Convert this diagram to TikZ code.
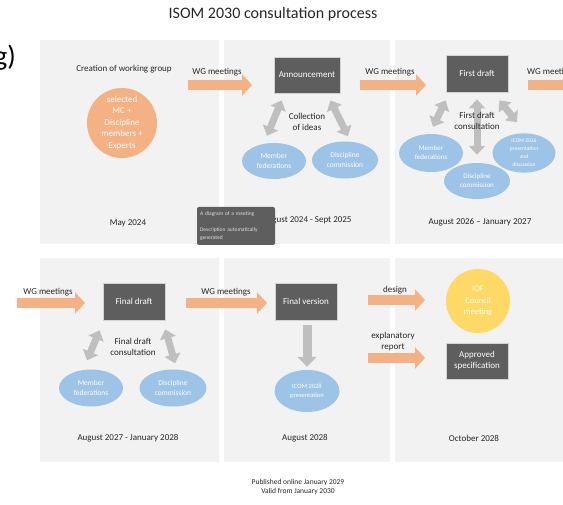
\documentclass[tikz,border=0pt]{standalone}
\usepackage{fontspec}
\setmainfont{Carlito}
\usetikzlibrary{arrows.meta,calc,shapes.geometric}
\definecolor{panel}{HTML}{F2F2F2}
\definecolor{peach}{HTML}{F4B183}
\definecolor{lblue}{HTML}{9DC3E6}
\definecolor{dbox}{HTML}{5E5E5E}
\definecolor{garrow}{HTML}{BFBFBF}
\definecolor{ink}{HTML}{262626}
\definecolor{gold}{HTML}{FFD966}
\tikzset{
  panelbox/.style={fill=panel, draw=none},
  darkbox/.style={rectangle, fill=dbox, draw=gray!35, line width=0.8pt, text=white,
    font=\fontsize{9}{11}\selectfont, minimum width=62pt, minimum height=37pt, inner sep=0pt, align=center},
  blueell/.style={ellipse, fill=lblue, draw=none, text=white,
    font=\fontsize{7.5}{9.5}\selectfont, align=center, inner sep=0pt},
  lbl/.style={text=ink, font=\fontsize{9}{11}\selectfont, align=center, inner sep=0pt},
  orangearrow/.style={draw=peach, line width=10pt, -{Triangle[width=21pt,length=10pt]}},
  grayduo/.style={draw=garrow, line width=7pt, {Triangle[width=16pt,length=9pt]}-{Triangle[width=16pt,length=9pt]}},
  graydown/.style={draw=garrow, line width=9pt, -{Triangle[width=19pt,length=10pt]}}
}
\begin{document}
\begin{tikzpicture}[x=1pt,y=-1pt]
\useasboundingbox (0,0) rectangle (563,505);
% title and partial label
\node[lbl, font=\fontsize{16}{18}\selectfont] (title) at (273,14) {ISOM 2030 consultation process};
\node[anchor=base east, inner sep=0pt, font=\fontsize{28}{30}\selectfont] (glabel) at (16,66) {g)};
% panels
\fill[panelbox] (40,40) rectangle (219,244);
\fill[panelbox] (224,40) rectangle (390,244);
\fill[panelbox] (395,40) rectangle (563,244);
\fill[panelbox] (40,258) rectangle (219,462);
\fill[panelbox] (224,258) rectangle (390,462);
\fill[panelbox] (395,258) rectangle (563,462);

% ---------- panel 1
\node[lbl] (cwg) at (124,69) {Creation of working group};
\node[circle, fill=peach, minimum size=70pt, inner sep=0pt, text=white, align=center,
  font=\fontsize{9}{11.5}\selectfont] (grp) at (122,123) {selected\\MC +\\Discipline\\members +\\Experts};
\node[lbl] (d1) at (128,223) {May 2024};

% ---------- panel 2
\node[darkbox, minimum width=66pt, minimum height=36pt] (ann) at (307,75) {Announcement};
\node[blueell, minimum width=64pt, minimum height=36pt] (mf2) at (274,161) {Member\\federations};
\node[blueell, minimum width=66pt, minimum height=37pt] (dc2) at (345,160) {Discipline\\commission};
\node[lbl] (d2) at (307,220) {August 2024 - Sept 2025};

% ---------- panel 3
\node[darkbox] (fd1) at (477,73.5) {First draft};
\node[blueell, minimum width=64pt, minimum height=38pt, font=\fontsize{7}{9}\selectfont] (mf3) at (431,153) {Member\\federations};
\node[blueell, minimum width=63pt, minimum height=31pt, font=\fontsize{5.5}{8}\selectfont] (icom) at (524,153) {ICOM 2026\\presentation\\and\\discussion};
\node[blueell, minimum width=66pt, minimum height=36pt, font=\fontsize{7}{9}\selectfont] (dc3) at (477,181) {Discipline\\commission};
\node[lbl] (d3) at (480,222) {August 2026 – January 2027};

% ---------- panel 4
\node[darkbox] (fdr) at (134,301.5) {Final draft};
\node[blueell, minimum width=64pt, minimum height=37pt] (mf4) at (91,388) {Member\\federations};
\node[blueell, minimum width=67pt, minimum height=37pt] (dc4) at (173,388) {Discipline\\commission};
\node[lbl] (d4) at (128,438) {August 2027 - January 2028};

% ---------- panel 5
\node[darkbox] (fv) at (306,301.5) {Final version};
\node[blueell, minimum width=65pt, minimum height=42pt, font=\fontsize{6.5}{9}\selectfont] (icom28) at (307,391) {ICOM 2028\\presentation};
\node[lbl] (d5) at (305,438) {August 2028};

% ---------- panel 6
\node[circle, fill=gold, minimum size=64pt, inner sep=0pt, text=white, align=center,
  font=\fontsize{8.5}{11.5}\selectfont] (iof) at (478,301) {IOF\\Council\\meeting};
\node[darkbox, minimum height=36pt] (apr) at (477,361) {Approved\\specification};
\node[lbl] (d6) at (474,438) {October 2028};

% ---------- gray arrows
\draw[grayduo] ($(ann.south west)+(8,7)$) -- ($(mf2.north)+(-7,-7)$);
\draw[grayduo] ($(ann.south east)+(-10,7)$) -- ($(dc2.north)+(3,-5)$);
\draw[grayduo] ($(fd1.south west)+(0,8)$) -- ($(mf3.north)+(2,-7)$);
\draw[grayduo] ($(fd1.south)+(0,7)$) -- ($(dc3.north)+(0,-8)$);
\draw[grayduo] ($(fd1.south east)+(-9,8)$) -- ($(icom.north)+(-7,-11)$);
\draw[grayduo] ($(fdr.south west)+(-3,10)$) -- ($(mf4.north)+(-4,-9)$);
\draw[grayduo] ($(fdr.south east)+(0,9)$) -- ($(dc4.north)+(2,-6)$);
\draw[graydown] ($(fv.south)+(1,5)$) -- ($(icom28.north)+(0,-3)$);

% ---------- consultation labels (on top of the arrows)
\node[lbl] (coll) at (307,122) {Collection\\of ideas};
\node[lbl] (fdc) at (477,121) {First draft\\consultation};
\node[lbl] (fdrc) at (133,347) {Final draft\\consultation};

% ---------- tooltip
\node[rectangle, rounded corners=2pt, fill=dbox, minimum width=78pt, minimum height=38pt,
  text=gray!25, font=\fontsize{5.5}{8}\selectfont, align=left, inner sep=3pt, text width=72pt]
  (tip) at (236,226) {A diagram of a meeting\\[8pt]Description automatically\\generated};

% ---------- orange arrows and labels
\coordinate (o1s) at (188,85);   \coordinate (o1e) at (252,85);
\coordinate (o2s) at (360,85);   \coordinate (o2e) at (426,85);
\coordinate (o3s) at (528,85);   \coordinate (o3e) at (600,85);
\coordinate (o4s) at (17,303);   \coordinate (o4e) at (85,303);
\coordinate (o5s) at (186,303);  \coordinate (o5e) at (267,303);
\coordinate (o6s) at (368,300);  \coordinate (o6e) at (425,300);
\coordinate (o7s) at (368,358);  \coordinate (o7e) at (425,358);
\begin{scope}
\clip (0,0) rectangle (563,505);
\draw[orangearrow] (o1s) -- (o1e);
\draw[orangearrow] (o2s) -- (o2e);
\draw[orangearrow] (o3s) -- (o3e);
\draw[orangearrow] (o4s) -- (o4e);
\draw[orangearrow] (o5s) -- (o5e);
\draw[orangearrow] (o6s) -- (o6e);
\draw[orangearrow] (o7s) -- (o7e);
\node[lbl, anchor=west] (w3) at (527,72) {WG meetings};
\end{scope}
\node[lbl] (w1) at (217,72) {WG meetings};
\node[lbl] (w2) at (390,72) {WG meetings};
\node[lbl] (w4) at (48,292) {WG meetings};
\node[lbl] (w5) at (226,292) {WG meetings};
\node[lbl] (w6) at (395,290) {design};
\node[lbl] (w7) at (393,342) {explanatory\\report};

% ---------- footer
\node[lbl, font=\fontsize{7.5}{9}\selectfont] (foot) at (298,487) {Published online January 2029\\Valid from January 2030};
\end{tikzpicture}
\end{document}
